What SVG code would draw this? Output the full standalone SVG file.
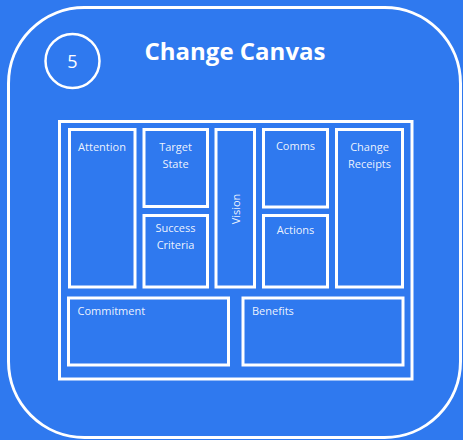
<svg xmlns="http://www.w3.org/2000/svg" width="463" height="440" viewBox="0 0 463 440">
<style>
.box{fill:none;stroke:#fff;stroke-width:3}
.lbl{font-family:"Open Sans","Liberation Sans",sans-serif;font-size:11px;fill:#fff;fill-opacity:0.92}
.c{text-anchor:middle}
</style>
<rect x="0" y="0" width="463" height="440" fill="#2F79EF"/>
<g id="frame">
<rect x="8.5" y="7.5" width="452" height="430" rx="76" ry="76" fill="none" stroke="#fff" stroke-width="3"/>
</g>
<g id="badge">
<circle cx="72.5" cy="61" r="27" fill="none" stroke="#fff" stroke-width="2.5"/>
<text x="72.5" y="67.5" text-anchor="middle" font-family="'Open Sans','Liberation Sans',sans-serif" font-size="18" fill="#fff">5</text>
</g>
<g id="title">
<text x="235" y="60" text-anchor="middle" font-family="'Open Sans','Liberation Sans',sans-serif" font-size="24" font-weight="700" fill="#fff">Change Canvas</text>
</g>
<g id="canvas">
<rect class="box" x="59.5" y="121.5" width="352.5" height="257.5"/>
</g>
<g id="attention">
<rect class="box" x="69.5" y="129.5" width="65.5" height="157.5"/>
<text class="lbl c" x="102" y="151">Attention</text>
</g>
<g id="target-state">
<rect class="box" x="144" y="129.5" width="63.5" height="77"/>
<text class="lbl c" x="175.5" y="151">Target</text>
<text class="lbl c" x="175.5" y="167.5">State</text>
</g>
<g id="success-criteria">
<rect class="box" x="144" y="215.5" width="63.5" height="71.5"/>
<text class="lbl c" x="175.5" y="232">Success</text>
<text class="lbl c" x="175.5" y="248.5">Criteria</text>
</g>
<g id="vision">
<rect class="box" x="216" y="129.5" width="38.5" height="157.5"/>
<text class="lbl c" transform="translate(239.5 209) rotate(-90)" x="0" y="0">Vision</text>
</g>
<g id="comms">
<rect class="box" x="263.5" y="129.5" width="64" height="77.5"/>
<text class="lbl c" x="295.5" y="149.5">Comms</text>
</g>
<g id="actions">
<rect class="box" x="263.5" y="215.5" width="64" height="71.5"/>
<text class="lbl c" x="295.5" y="233.5">Actions</text>
</g>
<g id="change-receipts">
<rect class="box" x="336.5" y="129.5" width="66" height="157.5"/>
<text class="lbl c" x="369.5" y="151">Change</text>
<text class="lbl c" x="369.5" y="167.5">Receipts</text>
</g>
<g id="commitment">
<rect class="box" x="68.5" y="298" width="160" height="67"/>
<text class="lbl" x="77.5" y="314.5">Commitment</text>
</g>
<g id="benefits">
<rect class="box" x="243" y="298" width="160" height="67"/>
<text class="lbl" x="252" y="314.5">Benefits</text>
</g>
<g id="connectors"/>
</svg>
